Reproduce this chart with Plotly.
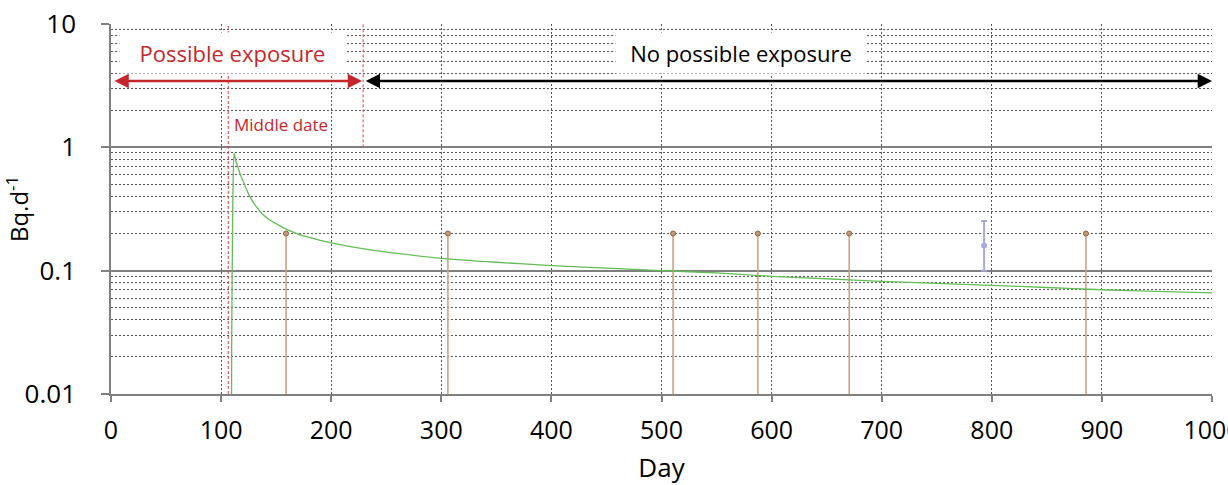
import math
import plotly.graph_objects as go

# Modelled daily activity (green curve)
model_days = [109.4, 109.6, 110.6, 111.7, 113, 115, 117, 120, 123, 126, 132, 138, 145, 153, 160,
              170, 180, 190, 200, 230, 260, 300, 350, 400, 450, 500, 550, 600, 650, 700, 750,
              800, 850, 900, 950, 1000]
model_vals = [0.005, 0.025, 0.33, 0.9, 0.8, 0.7, 0.62, 0.53, 0.46, 0.40, 0.33, 0.285, 0.255, 0.232,
              0.215, 0.198, 0.186, 0.176, 0.168, 0.150, 0.138, 0.126, 0.117, 0.110, 0.105, 0.100,
              0.096, 0.090, 0.086, 0.082, 0.079, 0.076, 0.073, 0.070, 0.068, 0.066]

# Measurements below the decision threshold (upper value, stem to axis floor)
lt_days = [159, 306, 510.5, 587.5, 670.5, 885.5]
lt_vals = [0.2, 0.2, 0.2, 0.2, 0.2, 0.2]
axis_floor = 0.01

# Positive measurement with uncertainty
pos_day = [793]
pos_val = [0.16]
pos_err_plus = [0.093]
pos_err_minus = [0.06]

# Exposure periods
middle_date = 106.5
exposure_end = 229
day_max = 1000

y_tickvals = [0.01, 0.1, 1, 10]
y_ticktext = ["0.01", "0.1", "1", "10"]
x_tickvals = [0, 100, 200, 300, 400, 500, 600, 700, 800, 900, 1000]

FONT = "Open Sans"
RED = "#c3272e"

fig = go.Figure()

# middle date marker
fig.add_trace(go.Scatter(x=[middle_date, middle_date], y=[axis_floor, 10], mode="lines",
                         line=dict(color="#e0424a", width=1, dash="3px,2px"),
                         hoverinfo="skip", showlegend=False))
# end of possible exposure
fig.add_trace(go.Scatter(x=[exposure_end, exposure_end], y=[1, 10], mode="lines",
                         line=dict(color="#e0424a", width=1, dash="3px,2px"),
                         hoverinfo="skip", showlegend=False))

# stems for below-threshold results
stem_x, stem_y = [], []
for d, v in zip(lt_days, lt_vals):
    stem_x += [d, d, None]
    stem_y += [v, axis_floor, None]
fig.add_trace(go.Scatter(x=stem_x, y=stem_y, mode="lines",
                         line=dict(color="#cfa47c", width=1.6),
                         hoverinfo="skip", showlegend=False))
fig.add_trace(go.Scatter(x=lt_days, y=lt_vals, mode="markers",
                         marker=dict(size=5, color="#c49a74", line=dict(color="#8c6244", width=1)),
                         showlegend=False))

# model curve
fig.add_trace(go.Scatter(x=model_days, y=model_vals, mode="lines",
                         line=dict(color="#62bd55", width=1.3, shape="spline", smoothing=0.6),
                         showlegend=False))

# positive result with error bar
fig.add_trace(go.Scatter(x=pos_day, y=pos_val, mode="markers",
                         marker=dict(size=6, color="#a8abd9"),
                         error_y=dict(type="data", array=pos_err_plus, arrayminus=pos_err_minus,
                                      color="#a8abd9", thickness=2, width=3),
                         showlegend=False))

ylog = lambda v: math.log10(v)
arrow_level = 3.45

annotations = [
    # possible exposure period
    dict(x=exposure_end - 1, y=ylog(arrow_level), ax=1.8, ay=ylog(arrow_level),
         xref="x", yref="y", axref="x", ayref="y", text="", showarrow=True,
         arrowhead=2, startarrowhead=2, arrowside="end+start", arrowsize=1.1,
         startarrowsize=1.1, arrowwidth=2.6, arrowcolor=RED, standoff=0, startstandoff=0),
    # no possible exposure period
    dict(x=day_max, y=ylog(arrow_level), ax=exposure_end + 1, ay=ylog(arrow_level),
         xref="x", yref="y", axref="x", ayref="y", text="", showarrow=True,
         arrowhead=2, startarrowhead=2, arrowside="end+start", arrowsize=1.1,
         startarrowsize=1.1, arrowwidth=2.6, arrowcolor="black", standoff=0, startstandoff=0),
    dict(x=110, y=0.765, xref="x", yref="y", text="Possible exposure", showarrow=False,
         font=dict(family=FONT, size=22, color=RED), bgcolor="white", width=223, height=38,
         xanchor="center", yanchor="middle"),
    dict(x=572, y=0.765, xref="x", yref="y", text="No possible exposure", showarrow=False,
         font=dict(family=FONT, size=22, color="black"), bgcolor="white", width=248, height=38,
         xanchor="center", yanchor="middle"),
    dict(x=middle_date + 3.2, y=0.182, xref="x", yref="y", text="Middle date", showarrow=False,
         font=dict(family=FONT, size=17, color=RED), xanchor="left", yanchor="middle"),
]

fig.update_layout(
    width=1228, height=485,
    margin=dict(l=111, r=16, t=24, b=91, autoexpand=False),
    paper_bgcolor="white", plot_bgcolor="white",
    font=dict(family=FONT, color="black"),
    annotations=annotations,
    showlegend=False,
)

fig.update_xaxes(
    range=[0, day_max], tickvals=x_tickvals, automargin=False, ticklabeloverflow="allow",
    showgrid=True, gridcolor="#555555", gridwidth=1, griddash="2px,2px",
    zeroline=False, showline=True, linecolor="#808080", linewidth=1.5,
    ticks="outside", ticklen=6, tickcolor="#808080", tickwidth=1.5,
    tickfont=dict(family=FONT, size=25, color="black"), ticklabelstandoff=7,
    title=dict(text="Day", font=dict(family=FONT, size=26, color="black"), standoff=14),
)

fig.update_yaxes(
    type="log", range=[-2, 1], tickvals=y_tickvals, ticktext=y_ticktext, automargin=False,
    showgrid=True, gridcolor="#7f7f7f", gridwidth=1.5,
    zeroline=False, showline=True, linecolor="#808080", linewidth=1.5,
    ticks="outside", ticklen=8, tickcolor="#808080", tickwidth=1.5,
    tickfont=dict(family=FONT, size=26, color="black"), ticklabelstandoff=20,
    minor=dict(dtick="D1", showgrid=True, gridcolor="#555555", gridwidth=1, griddash="2px,2px", ticks=""),
    title=dict(text="Bq.d<sup>-1</sup>", font=dict(family=FONT, size=24, color="black"), standoff=10),
)

fig.write_html("out.html")
